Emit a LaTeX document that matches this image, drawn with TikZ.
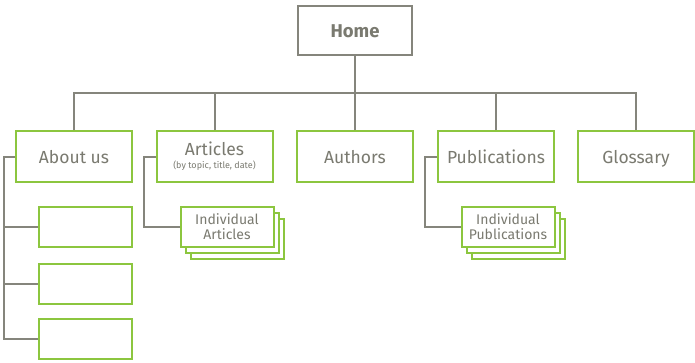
\documentclass[tikz,border=0pt]{standalone}
\usepackage{fontspec}
\setmainfont{Fira Sans}
\definecolor{grn}{HTML}{8CC63F}
\definecolor{gry}{HTML}{85857C}
\definecolor{txt}{HTML}{7A7A70}
\tikzset{
  homebox/.style={draw=gry, line width=2pt, minimum width=114pt, minimum height=49pt, inner sep=0pt, text=txt, fill=white, font=\fontsize{18.5}{20}\selectfont\bfseries, text height=13pt, text depth=0pt},
  topbox/.style={draw=grn, line width=2pt, minimum width=116pt, minimum height=51pt, inner sep=0pt, text=txt, fill=white, align=center, font=\fontsize{17.5}{19}\selectfont},
  onel/.style={text height=13.5pt, text depth=0pt},
  subbox/.style={draw=grn, line width=2pt, minimum width=93pt, minimum height=40pt, inner sep=0pt, text=txt, fill=white, align=center, font=\fontsize{14}{15}\selectfont},
  conn/.style={draw=gry, line width=2pt},
}
\begin{document}
\begin{tikzpicture}[x=1pt,y=-1pt]
\useasboundingbox (0,0) rectangle (695,362);
% home
\node[homebox] (home) at (355,30.5) {Home};
% level 1
\node[topbox, onel] (about) at (74,156.5) {About us};
\node[topbox] (articles) at (214.5,156.5) {Articles\\[-6pt]{\fontsize{9}{10}\selectfont (by topic, title, date)}};
\node[topbox, onel] (authors) at (355,156.5) {Authors};
\node[topbox, onel] (pubs) at (496,156.5) {Publications};
\node[topbox, onel] (gloss) at (636,156.5) {Glossary};
\coordinate (bar) at (0,93);
\draw[conn] (home.south) -- (home.south |- bar);
\draw[conn] (about.north) |- (bar -| gloss.north) -- (gloss.north);
\foreach \n in {articles,authors,pubs}{
  \draw[conn] (\n.north) -- (\n.north |- bar);
}
% about us children
\node[subbox] (ab1) at (85,227) {};
\node[subbox] (ab2) at (85,284) {};
\node[subbox] (ab3) at (85,339) {};
\coordinate (abx) at (4,0);
\draw[conn] (about.west) -- (about.west -| abx) |- (ab3.west);
\draw[conn] (ab1.west -| abx) -- (ab1.west);
\draw[conn] (ab2.west -| abx) -- (ab2.west);
% articles stack
\node[subbox] (art3) at (237,238.5) {};
\node[subbox] (art2) at (232,233) {};
\node[subbox] (art1) at (227,227) {Individual\\Articles};
\coordinate (arx) at (144,0);
\draw[conn] (articles.west) -- (articles.west -| arx) |- (art1.west);
% publications stack
\node[subbox] (pub3) at (518,238.5) {};
\node[subbox] (pub2) at (513,233) {};
\node[subbox] (pub1) at (508,227) {Individual\\Publications};
\coordinate (pbx) at (425,0);
\draw[conn] (pubs.west) -- (pubs.west -| pbx) |- (pub1.west);
\end{tikzpicture}
\end{document}
